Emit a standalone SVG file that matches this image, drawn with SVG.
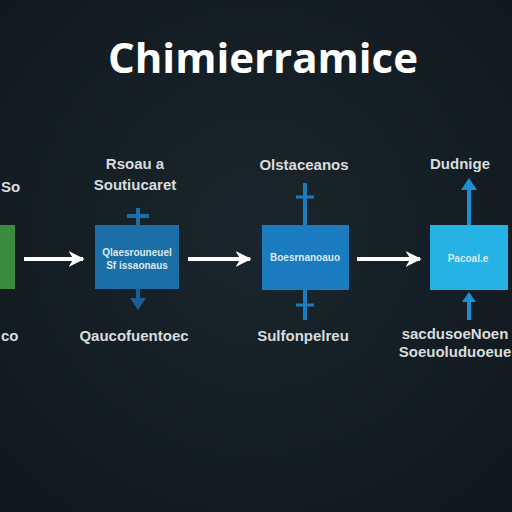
<svg xmlns="http://www.w3.org/2000/svg" width="512" height="512" viewBox="0 0 512 512">
<defs>
<radialGradient id="bg" cx="0.5" cy="0.45" r="0.75">
<stop offset="0" stop-color="#1a262d"/>
<stop offset="1" stop-color="#0e171c"/>
</radialGradient>
<marker id="wh" viewBox="0 0 10 10" refX="9" refY="5" markerWidth="4" markerHeight="4" orient="auto">
<path d="M0,0 L10,5 L0,10 L3,5 z" fill="#ffffff"/>
</marker>
<style>
.lbl{font-family:"Liberation Sans",Arial,sans-serif;font-weight:bold;fill:#d8dcde;font-size:15px;text-anchor:middle}
.in{font-family:"Liberation Sans",Arial,sans-serif;font-weight:bold;fill:#dce8f0;font-size:10px;text-anchor:middle}
.wa{stroke:#ffffff;stroke-width:4;fill:none}
.bl{stroke:#1a78b8;stroke-width:4;fill:none}
</style>
</defs>
<rect width="512" height="512" fill="url(#bg)"/>
<text x="263" y="73" font-family="'Open Sans','Liberation Sans',sans-serif" font-weight="bold" font-size="42" fill="#ffffff" text-anchor="middle">Chimierramice</text>

<g id="connectors">
<line class="wa" x1="24" y1="259" x2="83" y2="259" marker-end="url(#wh)"/>
<line class="wa" x1="188" y1="259" x2="250" y2="259" marker-end="url(#wh)"/>
<line class="wa" x1="357" y1="259" x2="420" y2="259" marker-end="url(#wh)"/>
</g>

<g id="node0">
<rect x="0" y="225" width="15" height="64" fill="#3b8b3e"/>
<text class="lbl" x="1" y="192" style="text-anchor:start">So</text>
<text class="lbl" x="1" y="341" style="text-anchor:start">co</text>
</g>

<g id="node1">
<line x1="138" y1="208" x2="138" y2="226" stroke="#1e6ea3" stroke-width="4"/>
<line x1="127" y1="216" x2="149" y2="216" stroke="#1e6ea3" stroke-width="4"/>
<rect x="95" y="225" width="84" height="64" fill="#1b6ea6"/>
<text class="in" x="137" y="256">Qlaesrouneuel</text>
<text class="in" x="137" y="269">Sf  issaonaus</text>
<line x1="138" y1="289" x2="138" y2="300" stroke="#1b5f92" stroke-width="4"/>
<path d="M130,298 L146,298 L138,310 z" fill="#1b5f92"/>
<text class="lbl" x="135" y="169">Rsoau a</text>
<text class="lbl" x="135" y="190">Soutiucaret</text>
<text class="lbl" x="134" y="341">Qaucofuentoec</text>
</g>

<g id="node2">
<line x1="305" y1="183" x2="305" y2="226" stroke="#1a7cbf" stroke-width="4"/>
<line x1="296" y1="197" x2="314" y2="197" stroke="#1a7cbf" stroke-width="3"/>
<rect x="262" y="225" width="87" height="65" fill="#1a7cbf"/>
<text class="in" x="305" y="261">Boesrnanoauo</text>
<line x1="305" y1="290" x2="305" y2="320" stroke="#1a7cbf" stroke-width="4"/>
<line x1="296" y1="305" x2="314" y2="305" stroke="#1a7cbf" stroke-width="3"/>
<text class="lbl" x="304" y="170">Olstaceanos</text>
<text class="lbl" x="303" y="341">Sulfonpelreu</text>
</g>

<g id="node3">
<line x1="469" y1="190" x2="469" y2="226" stroke="#1b8fd4" stroke-width="4"/>
<path d="M461,190 L477,190 L469,178 z" fill="#1b8fd4"/>
<rect x="430" y="225" width="78" height="65" fill="#25b2e4"/>
<text class="in" x="468" y="262" font-size="12">Pacoal.e</text>
<line x1="469" y1="294" x2="469" y2="320" stroke="#1b8fd4" stroke-width="4"/>
<path d="M462,302 L476,302 L469,292 z" fill="#1b8fd4"/>
<text class="lbl" x="460" y="169">Dudnige</text>
<text class="lbl" x="455" y="339" font-size="13">sacdusoeNoen</text>
<text class="lbl" x="455" y="357" font-size="13">Soeuoluduoeue</text>
</g>
</svg>
